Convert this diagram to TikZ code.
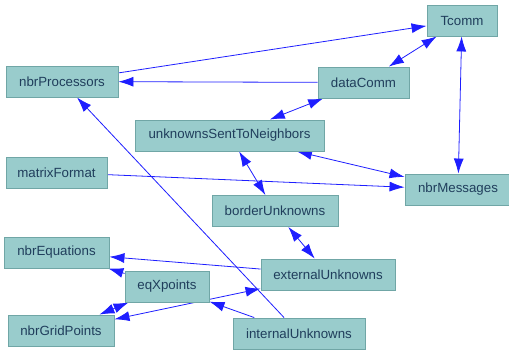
\documentclass[tikz,border=0pt]{standalone}
\usepackage{fontspec}
\setmainfont{Liberation Sans}
\usetikzlibrary{arrows.meta,backgrounds}

\definecolor{boxfill}{RGB}{153,204,204}
\definecolor{boxline}{RGB}{112,166,166}
\definecolor{boxtext}{RGB}{32,62,92}
\definecolor{linkblue}{RGB}{30,30,255}

\begin{document}
\begin{tikzpicture}[x=1pt,y=-1pt,
    var/.style={draw=boxline,line width=0.9pt,fill=boxfill,text=boxtext,
      minimum height=31pt,inner sep=0pt,font=\fontsize{13.3}{15}\selectfont},
    link/.style={draw=linkblue,line width=0.8pt,
      -{Latex[length=15pt,width=10pt]}},
    both/.style={link,{Latex[length=15pt,width=10pt]}-{Latex[length=15pt,width=10pt]}}]
  \useasboundingbox (0,0) rectangle (509,353);

  % Define the variable boxes
  \node[var,minimum width=70pt]  (Tcomm)    at (462,20.5)  {Tcomm};
  \node[var,minimum width=112pt] (procs)    at (62,81.5)   {nbrProcessors};
  \node[var,minimum width=91pt]  (dataComm) at (363.5,82.5) {dataComm};
  \node[var,minimum width=189pt] (sent)     at (229.5,135.5) {unknownsSentToNeighbors};
  \node[var,minimum width=101pt] (format)   at (56.5,172.5) {matrixFormat};
  \node[var,minimum width=106pt] (msgs)     at (458,189.5) {nbrMessages};
  \node[var,minimum width=126pt] (border)   at (275,211)   {borderUnknowns};
  \node[var,minimum width=105pt] (eqs)      at (56.5,252.5) {nbrEquations};
  \node[var,minimum width=134pt] (external) at (328,274.5) {externalUnknowns};
  \node[var,minimum width=84pt]  (eqX)      at (167,286.5) {eqXpoints};
  \node[var,minimum width=106pt] (grid)     at (61,330.5)  {nbrGridPoints};
  \node[var,minimum width=132pt] (internal) at (299,333.5) {internalUnknowns};

  % Dependencies, kept behind the boxes
  \begin{scope}[on background layer]
    \draw[link] (procs) -- (Tcomm);
    \draw[link] (dataComm) -- (procs);
    \draw[both] (dataComm) -- (Tcomm);
    \draw[both] (dataComm) -- (sent);
    \draw[both] (Tcomm) -- (msgs);
    \draw[both] (sent) -- (msgs);
    \draw[link] (format) -- (msgs);
    \draw[both] (sent) -- (border);
    \draw[both] (border) -- (external);
    \draw[link] (external) -- (eqs);
    \draw[link] (eqX) -- (eqs);
    \draw[both] (eqX) -- (grid);
    \draw[both] (grid) -- (external);
    \draw[link] (internal) -- (procs);
    \draw[link] (internal) -- (eqX);
  \end{scope}
\end{tikzpicture}
\end{document}
